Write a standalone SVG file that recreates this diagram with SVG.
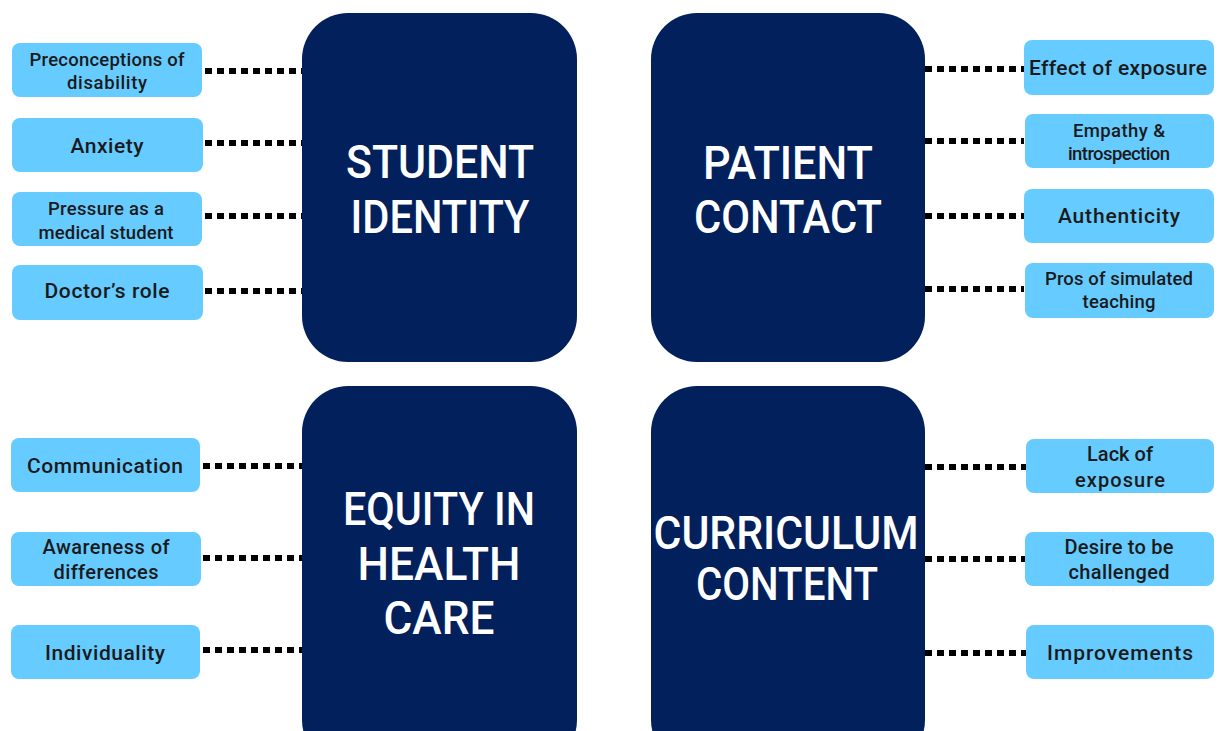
<svg xmlns="http://www.w3.org/2000/svg" width="1219" height="731" viewBox="0 0 1219 731">
<style>
.big{fill:#02205C;}
.sub{fill:#66CBFF;}
.bt{font-family:Roboto,"DejaVu Sans",sans-serif;font-weight:500;font-size:46px;fill:#ffffff;text-anchor:middle;}
.st{font-family:Roboto,"DejaVu Sans",sans-serif;font-weight:500;fill:#1a1a1a;text-anchor:middle;}
.s1{font-size:21px;}
.s2{font-size:18.5px;}
.s3{font-size:20px;}
.dot{stroke:#000;stroke-width:6;stroke-dasharray:7 5;fill:none;}
</style>
<rect width="1219" height="731" fill="#ffffff"/>
<g id="connectors">
<line class="dot" x1="205" y1="71" x2="302" y2="71"/>
<line class="dot" x1="205" y1="143" x2="302" y2="143"/>
<line class="dot" x1="205" y1="216" x2="302" y2="216"/>
<line class="dot" x1="205" y1="291" x2="302" y2="291"/>
<line class="dot" x1="925" y1="69" x2="1024" y2="69"/>
<line class="dot" x1="925" y1="141" x2="1024" y2="141"/>
<line class="dot" x1="925" y1="216" x2="1024" y2="216"/>
<line class="dot" x1="925" y1="289" x2="1024" y2="289"/>
<line class="dot" x1="203" y1="466" x2="302" y2="466"/>
<line class="dot" x1="203" y1="558" x2="302" y2="558"/>
<line class="dot" x1="203" y1="650" x2="302" y2="650"/>
<line class="dot" x1="925" y1="467" x2="1026" y2="467"/>
<line class="dot" x1="925" y1="559" x2="1026" y2="559"/>
<line class="dot" x1="925" y1="653" x2="1026" y2="653"/>
</g>
<g id="student-identity">
<rect class="big" x="302" y="13" width="275" height="349" rx="46"/>
<text class="bt" x="440" y="178" textLength="188" lengthAdjust="spacingAndGlyphs">STUDENT</text>
<text class="bt" x="440" y="233" textLength="179" lengthAdjust="spacingAndGlyphs">IDENTITY</text>
</g>
<g id="patient-contact">
<rect class="big" x="651" y="13" width="274" height="349" rx="46"/>
<text class="bt" x="788" y="179" textLength="170" lengthAdjust="spacingAndGlyphs">PATIENT</text>
<text class="bt" x="788" y="233" textLength="188" lengthAdjust="spacingAndGlyphs">CONTACT</text>
</g>
<g id="equity">
<rect class="big" x="302" y="386" width="275" height="380" rx="46"/>
<text class="bt" x="439" y="525" textLength="192" lengthAdjust="spacingAndGlyphs">EQUITY IN</text>
<text class="bt" x="439" y="580" textLength="163" lengthAdjust="spacingAndGlyphs">HEALTH</text>
<text class="bt" x="439" y="634" textLength="111" lengthAdjust="spacingAndGlyphs">CARE</text>
</g>
<g id="curriculum">
<rect class="big" x="651" y="386" width="274" height="380" rx="46"/>
<text class="bt" x="786" y="549" textLength="265" lengthAdjust="spacingAndGlyphs">CURRICULUM</text>
<text class="bt" x="787" y="600" textLength="182" lengthAdjust="spacingAndGlyphs">CONTENT</text>
</g>
<g id="preconceptions">
<rect class="sub" x="12" y="43" width="190" height="54" rx="8"/>
<text class="st s2" x="107" y="66" textLength="155">Preconceptions of</text>
<text class="st s2" x="107" y="89" textLength="80">disability</text>
</g>
<g id="anxiety">
<rect class="sub" x="12" y="118" width="191" height="54" rx="8"/>
<text class="st s1" x="107" y="153" textLength="73">Anxiety</text>
</g>
<g id="pressure">
<rect class="sub" x="12" y="192" width="190" height="54" rx="8"/>
<text class="st s2" x="106" y="215" textLength="116">Pressure as a</text>
<text class="st s2" x="106" y="239" textLength="135">medical student</text>
</g>
<g id="doctors-role">
<rect class="sub" x="12" y="265" width="191" height="55" rx="8"/>
<text class="st s1" x="107" y="298" textLength="125">Doctor’s role</text>
</g>
<g id="effect-of-exposure">
<rect class="sub" x="1024" y="40" width="190" height="55" rx="8"/>
<text class="st s1" x="1118" y="75" textLength="178">Effect of exposure</text>
</g>
<g id="empathy">
<rect class="sub" x="1025" y="114" width="189" height="54" rx="8"/>
<text class="st s2" x="1119" y="137" textLength="92">Empathy &amp;</text>
<text class="st s2" x="1119" y="160" textLength="102">introspection</text>
</g>
<g id="authenticity">
<rect class="sub" x="1024" y="189" width="190" height="54" rx="8"/>
<text class="st s1" x="1119" y="223" textLength="122">Authenticity</text>
</g>
<g id="pros-simulated">
<rect class="sub" x="1025" y="263" width="189" height="55" rx="8"/>
<text class="st s2" x="1119" y="285" textLength="148">Pros of simulated</text>
<text class="st s2" x="1119" y="308" textLength="73">teaching</text>
</g>
<g id="communication">
<rect class="sub" x="11" y="438" width="189" height="54" rx="8"/>
<text class="st s1" x="105" y="473" textLength="156">Communication</text>
</g>
<g id="awareness">
<rect class="sub" x="11" y="532" width="190" height="54" rx="8"/>
<text class="st s3" x="106" y="554" textLength="127">Awareness of</text>
<text class="st s3" x="106" y="579" textLength="105">differences</text>
</g>
<g id="individuality">
<rect class="sub" x="11" y="625" width="189" height="54" rx="8"/>
<text class="st s1" x="105" y="660" textLength="120">Individuality</text>
</g>
<g id="lack-of-exposure">
<rect class="sub" x="1026" y="439" width="188" height="54" rx="8"/>
<text class="st s3" x="1120" y="461" textLength="66">Lack of</text>
<text class="st s3" x="1120" y="487" textLength="90">exposure</text>
</g>
<g id="desire">
<rect class="sub" x="1025" y="532" width="189" height="54" rx="8"/>
<text class="st s3" x="1119" y="554" textLength="109">Desire to be</text>
<text class="st s3" x="1119" y="579" textLength="101">challenged</text>
</g>
<g id="improvements">
<rect class="sub" x="1026" y="625" width="188" height="54" rx="8"/>
<text class="st s1" x="1120" y="660" textLength="146">Improvements</text>
</g>
</svg>
